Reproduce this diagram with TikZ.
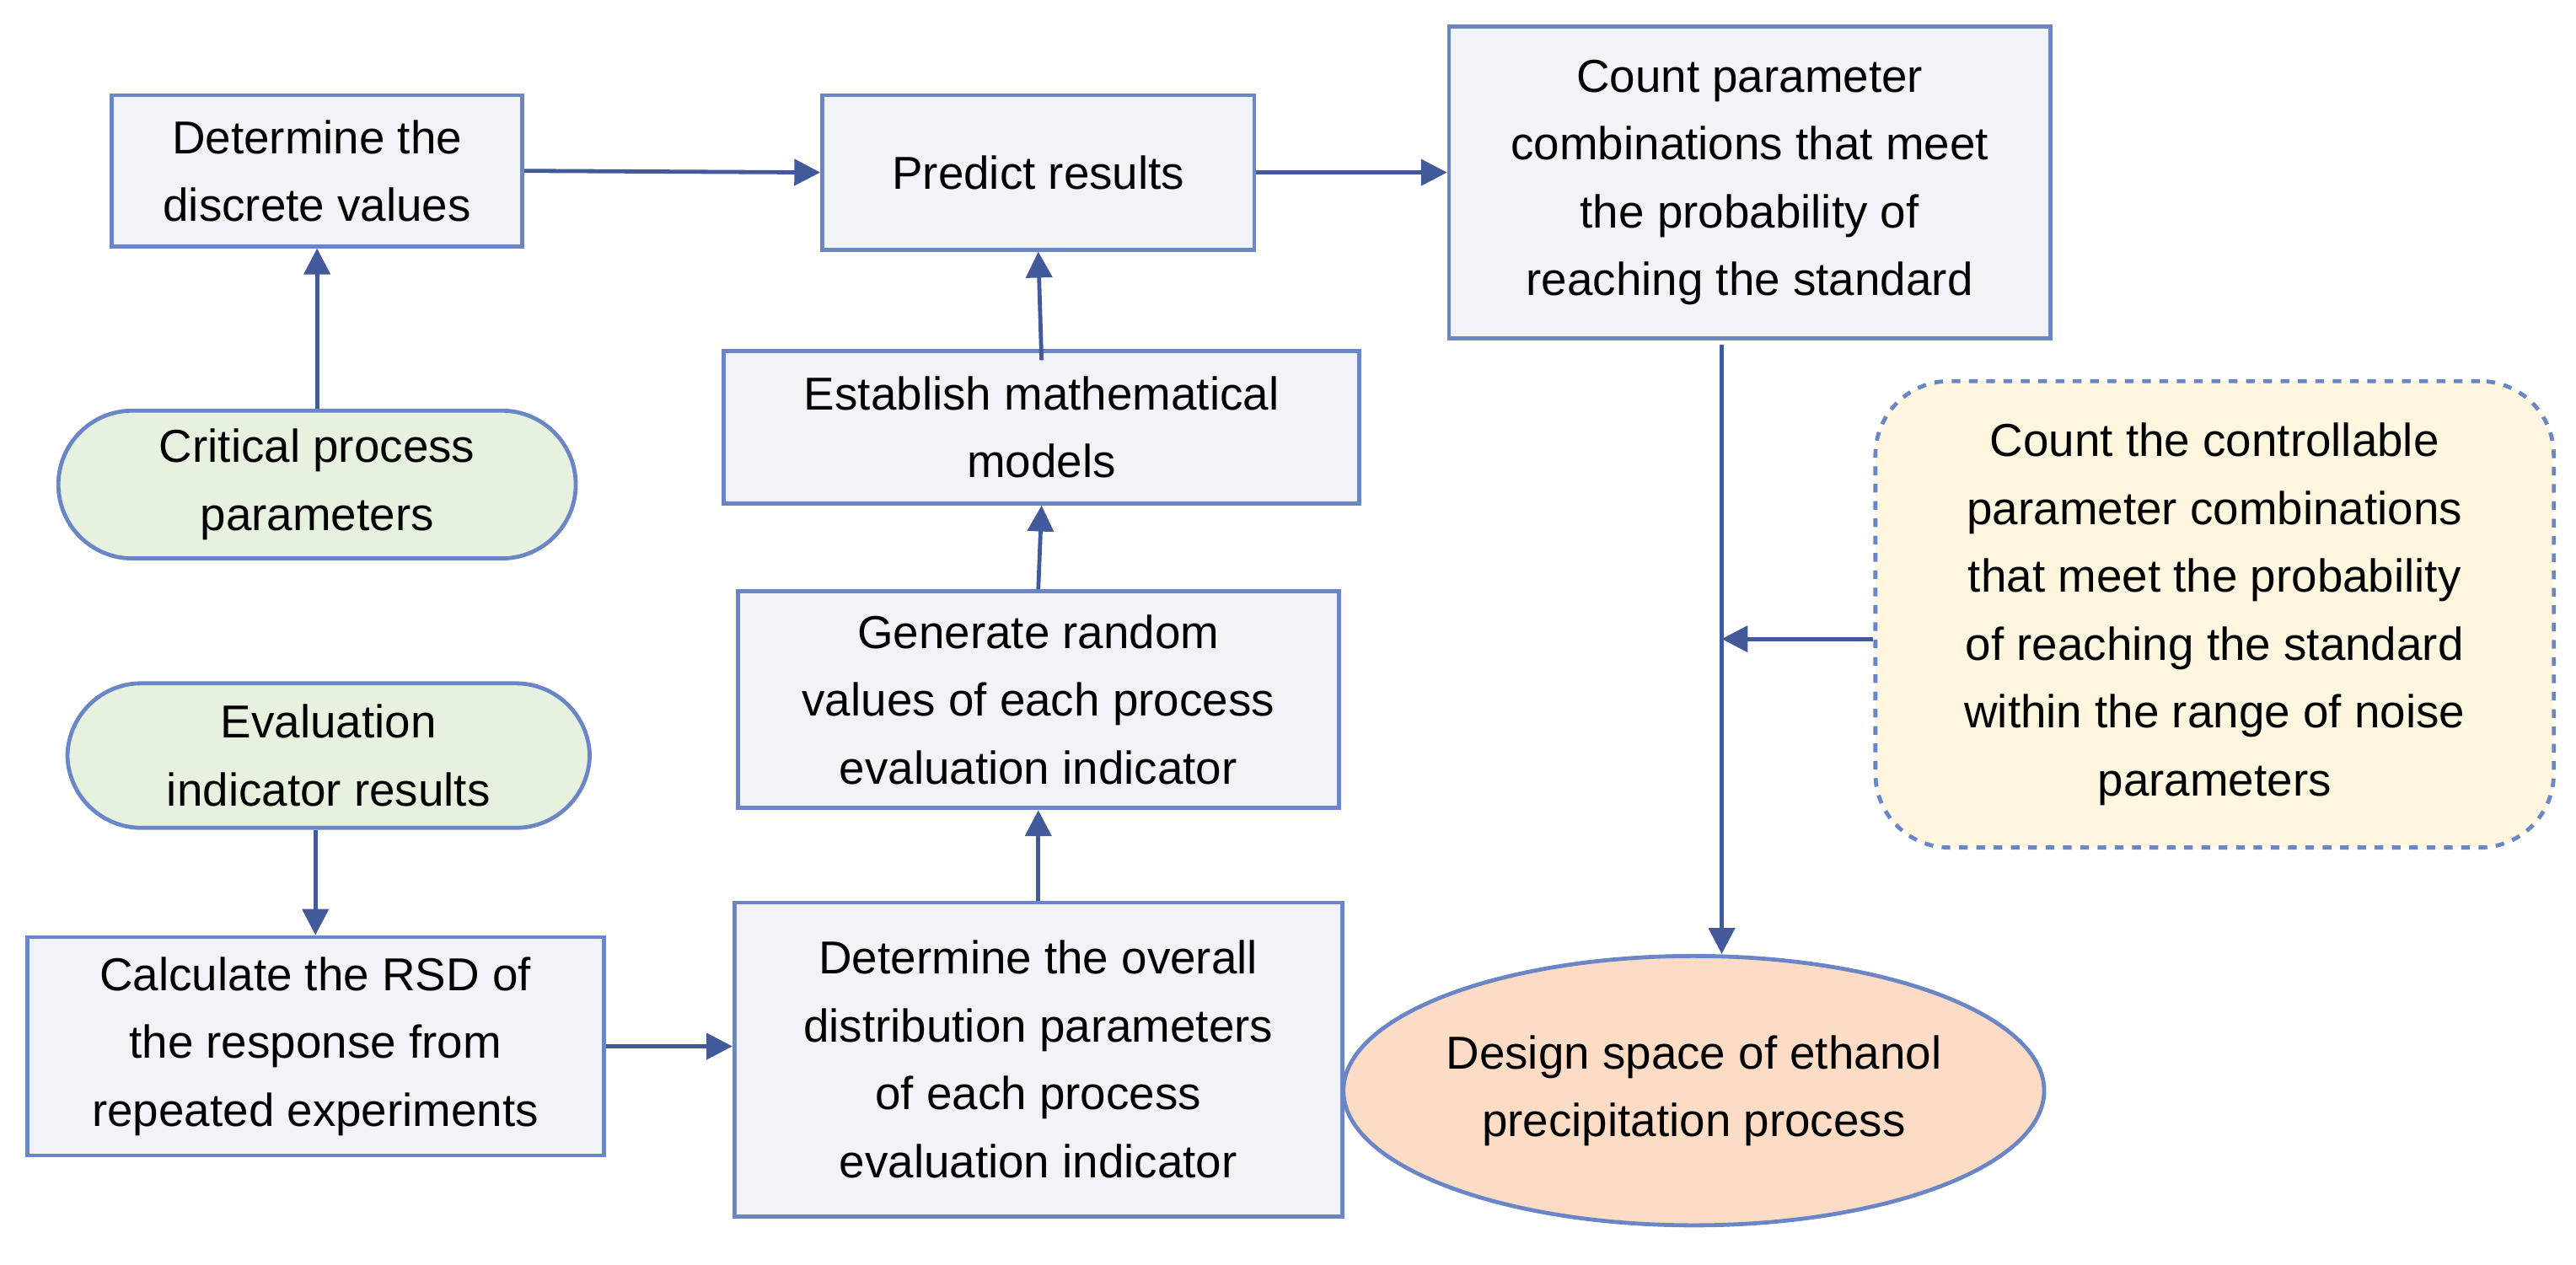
\documentclass[tikz,border=0pt]{standalone}
\usepackage{fontspec}
\setmainfont{Liberation Sans}
\usetikzlibrary{arrows.meta,shapes.geometric}
\definecolor{bd}{HTML}{6B86C6}
\definecolor{ar}{HTML}{42599A}
\definecolor{bx}{HTML}{F2F3F9}
\definecolor{gr}{HTML}{E6F1DF}
\definecolor{yl}{HTML}{FFF6DF}
\definecolor{or}{HTML}{FDDCC6}
\begin{document}
\begin{tikzpicture}[x=0.02cm,y=-0.02cm,
  every node/.style={font=\fontsize{16}{23.5}\selectfont,align=center,inner sep=0pt},
  box/.style={draw=bd,line width=1.4pt,fill=bx,rectangle},
  term/.style={draw=bd,line width=1.4pt,fill=gr,rounded corners=0.9cm},
  arr/.style={draw=ar,line width=1.4pt,-{Triangle[length=9pt,width=9pt]}}]
\useasboundingbox (0,0) rectangle (1568,770);
\node[box,minimum width=5cm,minimum height=1.84cm] (dis) at (193,104) {Determine the\\discrete values};
\node[box,minimum width=5.26cm,minimum height=1.88cm] (pre) at (632,105) {Predict results};
\node[box,minimum width=7.32cm,minimum height=3.8cm] (cnt) at (1065,111) {Count parameter\\combinations that meet\\the probability of\\reaching the standard};
\node[box,minimum width=7.74cm,minimum height=1.86cm] (est) at (634,260) {Establish mathematical\\models};
\node[term,minimum width=6.3cm,minimum height=1.8cm] (cpp) at (193,295) {Critical process\\parameters};
\node[box,minimum width=7.32cm,minimum height=2.64cm] (gen) at (632,426) {Generate random\\values of each process\\evaluation indicator};
\node[term,minimum width=6.36cm,minimum height=1.76cm] (eva) at (200,460) {Evaluation\\indicator results};
\node[draw=bd,dashed,line width=1.4pt,fill=yl,rounded corners=0.9cm,minimum width=8.26cm,minimum height=5.68cm] (ctl) at (1348,374) {Count the controllable\\parameter combinations\\that meet the probability\\of reaching the standard\\within the range of noise\\parameters};
\node[box,minimum width=7.02cm,minimum height=2.66cm] (rsd) at (192,637) {Calculate the RSD of\\the response from\\repeated experiments};
\node[box,minimum width=7.4cm,minimum height=3.82cm] (ovr) at (632,645) {Determine the overall\\distribution parameters\\of each process\\evaluation indicator};
\node[ellipse,draw=bd,line width=1.4pt,fill=or,minimum width=7.88cm,minimum height=3.28cm] (ds) at (1031,664) {Design space of ethanol\\precipitation process};
\coordinate (c1) at (1048,210);
\coordinate (c2) at (1048,389);
\draw[arr] (cpp.north) -- (dis.south);
\draw[arr] (dis.east) -- (pre.west);
\draw[arr] (pre.east) -- (cnt.west|-pre.east);
\draw[arr] ([yshift=-0.14cm]est.north) -- (pre.south);
\draw[arr] (gen.north) -- (est.south);
\draw[arr] (ovr.north) -- (gen.south);
\draw[arr] (eva.south-|rsd.north) -- (rsd.north);
\draw[arr] (rsd.east) -- (ovr.west|-rsd.east);
\draw[arr] (c1) -- (c1|-ds.north);
\draw[arr] (ctl.west|-c2) -- (c2);
\end{tikzpicture}
\end{document}
